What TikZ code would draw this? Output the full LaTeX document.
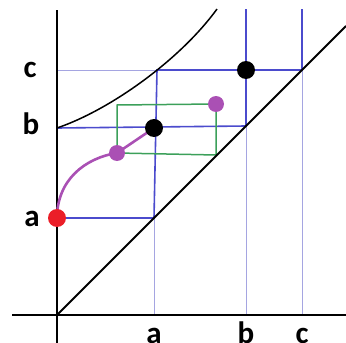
\documentclass[tikz,border=0pt]{standalone}
\usepackage{fontspec}
\setmainfont{Carlito}
\begin{document}
\begin{tikzpicture}[x=1pt,y=-1pt,
  axis/.style={line width=1.8pt,black},
  thin/.style={line width=0.6pt,color=thinblue},
  thick/.style={line width=1.6pt,color=myblue},
  greenl/.style={line width=1.5pt,color=mygreen},
  lbl/.style={font=\fontsize{31}{32}\selectfont\bfseries,inner sep=0pt,anchor=base},
  dot/.style={circle,inner sep=0pt,minimum size=#1}]
\definecolor{thinblue}{RGB}{165,165,225}
\definecolor{myblue}{RGB}{75,75,205}
\definecolor{mygreen}{RGB}{60,160,90}
\definecolor{mypurple}{RGB}{170,80,180}
\definecolor{myred}{RGB}{235,30,40}
\useasboundingbox (0,0) rectangle (346,343);
% key coordinates
\coordinate (O) at (57,315);
\coordinate (A0) at (57,218);
\coordinate (B0) at (57,128);
\coordinate (C0) at (57,70);
\coordinate (Ax) at (154,315);
\coordinate (Bx) at (246,315);
\coordinate (Cx) at (302,315);
\coordinate (AA) at (154,218);
\coordinate (BB) at (246,126);
\coordinate (CC) at (302,70);
\coordinate (AB) at (154,128);
\coordinate (AC) at (157,70);
\coordinate (BC) at (246,70);
\coordinate (Btop) at (246,9);
\coordinate (Ctop) at (302,9);
\coordinate (P1) at (117,153);
\coordinate (P2) at (216,104);
\coordinate (G1) at (117,105);
\coordinate (G2) at (216,155);
% thin lines
\draw[thin] (C0) -- (AC);
\draw[thin] (AA) -- (Ax);
\draw[thin] (BB) -- (Bx);
\draw[thin] (CC) -- (Cx);
% thick blue
\draw[thick] (B0) -- (A0) -- (AA) -- (AC) -- (CC) -- (Ctop);
\draw[thick] (B0) -- (BB) -- (Btop);
% green
\draw[greenl] (P1) -- (G1) -- (P2) -- (G2) -- (P1);
% axes
\draw[axis] (12,315) -- (346,315);
\draw[axis] (57,10) -- (57,343);
\draw[axis] (O) -- (346,26);
\draw[line width=1.5pt] (B0) .. controls (110,110) and (180,60) .. (217,9);
% purple curve
\draw[line width=2.6pt,mypurple] (A0) .. controls (57,180) and (85,158) .. (P1) -- (AB);
% dots
\node[dot=18pt,fill=myred] (red) at (A0) {};
\node[dot=16pt,fill=mypurple] (p1) at (P1) {};
\node[dot=16pt,fill=mypurple] (p2) at (P2) {};
\node[dot=18pt,fill=black] (k1) at (AB) {};
\node[dot=18pt,fill=black] (k2) at (BC) {};
% labels
\node[lbl] (lc) at (30,77) {c};
\node[lbl] (lb) at (31,134) {b};
\node[lbl] (la) at (32,226) {a};
\node[lbl] (xa) at (154,343) {a};
\node[lbl] (xb) at (246,343) {b};
\node[lbl] (xc) at (302,343) {c};
\end{tikzpicture}
\end{document}
